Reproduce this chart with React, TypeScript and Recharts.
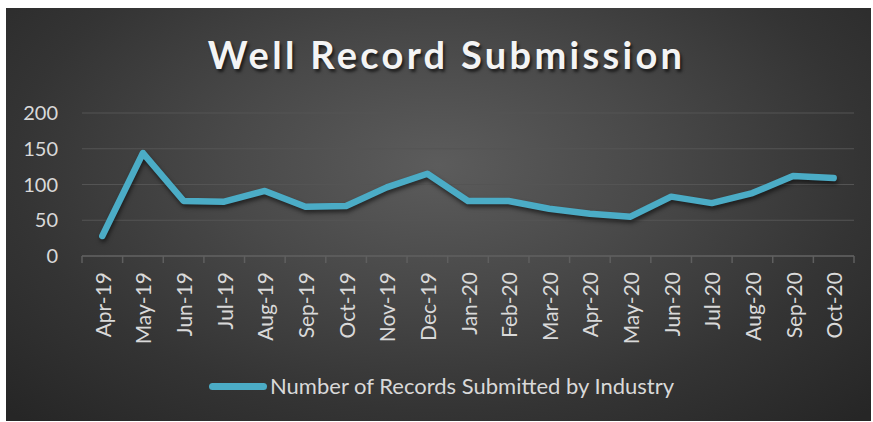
import React from 'react';
import { LineChart, Line, XAxis, YAxis, CartesianGrid, Legend } from 'recharts';

const months = [
  'Apr-19', 'May-19', 'Jun-19', 'Jul-19', 'Aug-19', 'Sep-19', 'Oct-19', 'Nov-19', 'Dec-19', 'Jan-20',
  'Feb-20', 'Mar-20', 'Apr-20', 'May-20', 'Jun-20', 'Jul-20', 'Aug-20', 'Sep-20', 'Oct-20',
];
const records = [28, 144, 77, 76, 91, 69, 70, 96, 115, 77, 77, 66, 59, 55, 83, 74, 88, 112, 109];
const yTicks = [0, 50, 100, 150, 200];
const seriesName = 'Number of Records Submitted by Industry';

const data = months.map((m, i) => ({ month: m, records: records[i] }));

const FONT = 'Lato, "Open Sans", sans-serif';
const TEXT = '#d9d9d9';
const LINE = '#4bacc6';
const AXIS = '#5f5f5f';

// month label plus an Excel-style tick mark on the left boundary of its band
const MonthTick = (props: any) => {
  const { x, y, payload, index, visibleTicksCount } = props;
  const half = payload.offset || 0;
  const axisY = y - 16;
  const isLast = index === visibleTicksCount - 1;
  return (
    <g>
      <line x1={x - half} x2={x - half} y1={axisY} y2={axisY + 7} stroke={AXIS} strokeWidth={1.5} />
      {isLast && <line x1={x + half} x2={x + half} y1={axisY} y2={axisY + 7} stroke={AXIS} strokeWidth={1.5} />}
      <text
        x={x}
        y={y}
        transform={`rotate(-90, ${x}, ${y})`}
        textAnchor="end"
        dominantBaseline="central"
        fill={TEXT}
        fontSize={21}
        fontFamily={FONT}
      >
        {payload.value}
      </text>
    </g>
  );
};

const LegendContent = () => (
  <div style={{ display: 'flex', alignItems: 'center', paddingLeft: 203, height: 40, marginTop: -10 }}>
    <div style={{ width: 58, height: 7, borderRadius: 4, background: LINE }} />
    <span style={{ color: TEXT, fontFamily: FONT, fontSize: 22, marginLeft: 3, lineHeight: '22px' }}>
      {seriesName}
    </span>
  </div>
);

const App: React.FC = () => (
  <div
    style={{
      position: 'absolute',
      left: 6,
      top: 8,
      width: 865,
      height: 413,
      background:
        'radial-gradient(ellipse 70% 85% at 50% 38%, #5c5c5c 0%, #494949 35%, #343434 70%, #262626 100%)',
      overflow: 'hidden',
    }}
  >
    <style>{`.recharts-line-curve { filter: drop-shadow(1px 3px 2px rgba(0,0,0,0.55)); }`}</style>
    <div
      style={{
        position: 'absolute',
        left: 8,
        top: 27,
        width: 865,
        textAlign: 'center',
        fontFamily: FONT,
        fontWeight: 700,
        fontSize: 38,
        lineHeight: '38px',
        letterSpacing: 3.3,
        color: '#f4f4f4',
        textShadow: '2px 3px 3px rgba(0,0,0,0.6)',
      }}
    >
      Well Record Submission
    </div>
    <LineChart width={865} height={413} data={data} margin={{ top: 105, right: 17, left: 0, bottom: 5 }}>
      <CartesianGrid vertical={false} stroke="#545454" strokeWidth={1.2} />
      <XAxis
        dataKey="month"
        scale="band"
        height={120}
        interval={0}
        axisLine={{ stroke: AXIS, strokeWidth: 1.5 }}
        tickLine={false}
        tickSize={0}
        tickMargin={16}
        tick={<MonthTick />}
      />
      <YAxis
        domain={[0, 200]}
        ticks={yTicks}
        width={76}
        axisLine={false}
        tickLine={false}
        tickSize={0}
        tickMargin={24}
        tick={{ fill: TEXT, fontSize: 20, fontFamily: FONT }}
      />
      <Legend
        verticalAlign="bottom"
        height={40}
        content={<LegendContent />}
        wrapperStyle={{ left: 0, width: 865 }}
      />
      <Line
        type="linear"
        dataKey="records"
        name={seriesName}
        stroke={LINE}
        strokeWidth={6.5}
        strokeLinecap="round"
        strokeLinejoin="round"
        dot={false}
        activeDot={false}
        isAnimationActive={false}
      />
    </LineChart>
  </div>
);

export default App;
